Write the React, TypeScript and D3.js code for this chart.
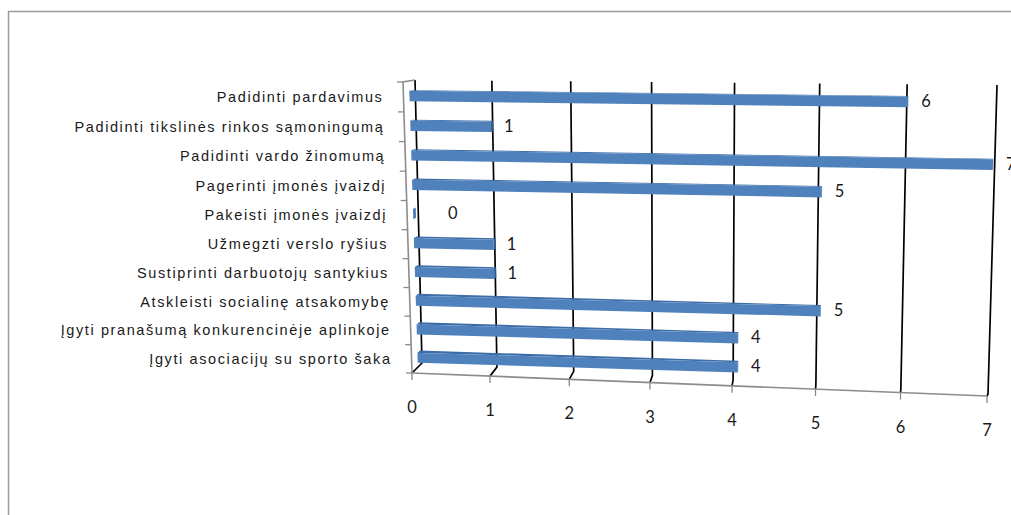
import React from 'react';
import * as d3 from 'd3';

const categories = [
  'Padidinti pardavimus',
  'Padidinti tikslinės rinkos sąmoningumą',
  'Padidinti vardo žinomumą',
  'Pagerinti įmonės įvaizdį',
  'Pakeisti įmonės įvaizdį',
  'Užmegzti verslo ryšius',
  'Sustiprinti darbuotojų santykius',
  'Atskleisti socialinę atsakomybę',
  'Įgyti pranašumą konkurencinėje aplinkoje',
  'Įgyti asociacijų su sporto šaka',
];
const values = [6, 1, 7, 5, 0, 1, 1, 5, 4, 4];
const xTicks = [0, 1, 2, 3, 4, 5, 6, 7];

type Pt = [number, number];

function homography(p00: Pt, p10: Pt, p11: Pt, p01: Pt) {
  const [x0, y0] = p00, [x1, y1] = p10, [x2, y2] = p11, [x3, y3] = p01;
  const dx1 = x1 - x2, dx2 = x3 - x2, dx3 = x0 - x1 + x2 - x3;
  const dy1 = y1 - y2, dy2 = y3 - y2, dy3 = y0 - y1 + y2 - y3;
  const den = dx1 * dy2 - dx2 * dy1;
  const g = (dx3 * dy2 - dx2 * dy3) / den;
  const h = (dx1 * dy3 - dx3 * dy1) / den;
  const a = x1 - x0 + g * x1, b = x3 - x0 + h * x3, c = x0;
  const d = y1 - y0 + g * y1, e = y3 - y0 + h * y3, f = y0;
  return (u: number, v: number): Pt => {
    const w = g * u + h * v + 1;
    return [(a * u + b * v + c) / w, (d * u + e * v + f) / w];
  };
}

// perspective planes of the 3D plot box
const backWall = homography([415, 80], [997, 85], [988, 394], [422, 363]);
const frontEdge = homography([403, 82], [996, 87], [987, 396], [412, 373]);
const barPlane = homography([409, 81], [995, 87.4], [987, 389.4], [418, 372]);
const DEPTH = 0.25;

const x = d3.scaleLinear().domain([0, 7]).range([0, 1]);
const y = d3.scaleBand<string>().domain(categories).range([0, 1]).paddingInner(0.65).paddingOuter(0.325);

const depthAt = (u: number, w: number): Pt => {
  const b = backWall(u, w), f = frontEdge(u, w);
  return [(b[0] - f[0]) * DEPTH, (b[1] - f[1]) * DEPTH];
};
const add = (p: Pt, d: Pt): Pt => [p[0] + d[0], p[1] + d[1]];
const poly = (pts: Pt[]) => d3.line()(pts) + 'Z';

const labelFont = '"Liberation Sans", Arial, sans-serif';
const numFont = 'Lato, "Open Sans", sans-serif';

export default function App() {
  return (
    <svg width={1011} height={515} style={{ position: 'absolute', left: 0, top: 0, background: '#fff' }}>
      <rect x={8.5} y={11.5} width={1200} height={700} fill="#fff" stroke="#9a9a9a" strokeWidth={1.5} />

      {/* gridlines on back wall and floor */}
      {xTicks.map((t) => {
        const u = x(t);
        const top = backWall(u, 0), bot = backWall(u, 1), fr = frontEdge(u, 1);
        return (
          <g key={'g' + t}>
            <path d={d3.line()([top, bot, fr]) || ''} fill="none" stroke="#000" strokeWidth={1.7} />
            <line x1={fr[0]} y1={fr[1]} x2={fr[0]} y2={fr[1] + 7} stroke="#888" strokeWidth={1.3} />
          </g>
        );
      })}

      {/* floor front edge */}
      {(() => {
        const a = frontEdge(0, 1), b = frontEdge(1, 1);
        return <line x1={a[0]} y1={a[1]} x2={b[0]} y2={b[1]} stroke="#8c8c8c" strokeWidth={1.6} />;
      })()}

      {/* left wall edge with ticks */}
      {(() => {
        const a = frontEdge(0, 0), b = frontEdge(0, 1), c = backWall(0, 0);
        return (
          <g>
            <path d={d3.line()([c, a, b]) || ''} fill="none" stroke="#8c8c8c" strokeWidth={1.6} />
            {d3.range(categories.length + 1).map((k) => {
              const p = frontEdge(0, k / categories.length);
              return <line key={'t' + k} x1={p[0] - 6} y1={p[1]} x2={p[0]} y2={p[1]} stroke="#8c8c8c" strokeWidth={1.3} />;
            })}
          </g>
        );
      })()}

      {/* bars */}
      {categories.map((cat, i) => {
        const v = values[i];
        const w0 = y(cat) as number;
        const w1 = w0 + y.bandwidth();
        const u0 = x(0), u1 = x(v);
        const a = barPlane(u0, w0), b = barPlane(u1, w0), c = barPlane(u1, w1), d = barPlane(u0, w1);
        const da = depthAt(u0, w0), db = depthAt(u1, w0), dc = depthAt(u1, w1);
        return (
          <g key={'b' + i}>
            <path d={poly([a, b, add(b, db), add(a, da)])} fill="#3d6ca6" />
            <path d={poly([b, c, add(c, dc), add(b, db)])} fill={v === 0 ? '#4a7bb8' : '#2f5b8f'} />
            <path d={poly([a, b, c, d])} fill="#4f81bd" />
          </g>
        );
      })}

      {/* value labels */}
      {categories.map((cat, i) => {
        const v = values[i];
        const wc = (y(cat) as number) + y.bandwidth() / 2;
        const p = barPlane(x(v), wc);
        return (
          <text key={'v' + i} x={p[0] + (v === 0 ? 35 : 13)} y={p[1] - 1} dominantBaseline="central"
            fontFamily={numFont} fontSize={16.5} fill="#1a1a1a">{v}</text>
        );
      })}

      {/* category labels */}
      {categories.map((cat, i) => {
        const p = frontEdge(0, (i + 0.5) / categories.length);
        return (
          <text key={'c' + i} x={p[0] - 20} y={p[1]} dominantBaseline="central" textAnchor="end"
            fontFamily={labelFont} fontSize={14.5} letterSpacing={1.6} fill="#1a1a1a">{cat}</text>
        );
      })}

      {/* value axis tick labels */}
      {xTicks.map((t) => {
        const p = frontEdge(x(t), 1);
        return (
          <text key={'x' + t} x={p[0]} y={p[1] + 34} dominantBaseline="central" textAnchor="middle"
            fontFamily={numFont} fontSize={16.5} fill="#1a1a1a">{t}</text>
        );
      })}
    </svg>
  );
}
